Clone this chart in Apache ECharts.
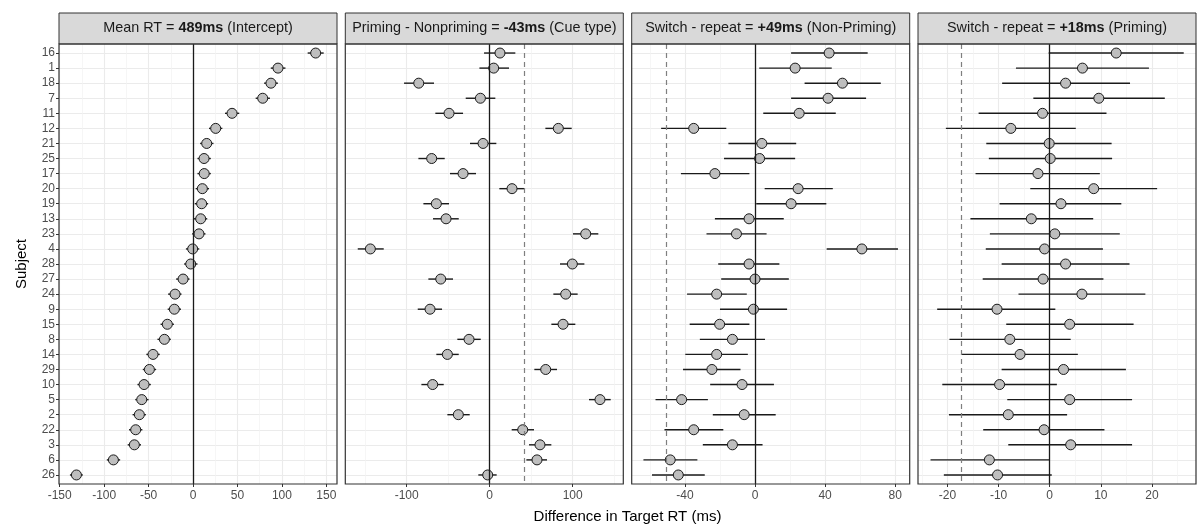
<!DOCTYPE html>
<html><head><meta charset="utf-8">
<script src="https://cdn.jsdelivr.net/npm/echarts@6/dist/echarts.min.js"></script>
<style>html,body{margin:0;padding:0;background:#fff}#c{width:1200px;height:526px}</style>
</head><body><div id="c"></div>
<script>
// ---------- data ----------
const subjects = ['16','1','18','7','11','12','21','25','17','20','19','13','23','4','28','27','24','9','15','8','14','29','10','5','2','22','3','6','26'];

const p1Est = [138,95.6,87.7,78.4,43.9,25.5,15.4,12.4,12.6,10.5,9.7,8.6,6.7,-0.4,-2.6,-11.2,-20.2,-21,-28.9,-32.2,-45,-49.1,-55.1,-57.7,-60.4,-64.5,-66,-89.6,-131.2];
const p1Lo  = [129,87.5,80,70.5,36,18,8,5,5,3,2,1,-1,-8,-10,-19,-28,-28.5,-36.5,-40,-52.5,-56.5,-62.5,-65,-68,-72,-73.5,-97,-138.5];
const p1Hi  = [147,104,95.5,86.5,52,33,23,20,20,18,17,16,14,7,5,-4,-13,-13.5,-21.5,-25,-37.5,-41.5,-47.5,-50,-53,-57,-58.5,-82,-124];

const p2Est = [12.4,4.8,-85.5,-11.2,-49,82.7,-8,-69.9,-32.1,26.9,-64.3,-52.6,115.7,-143.8,99.6,-59,91.6,-71.9,88.4,-24.9,-51,67.5,-68.7,132.9,-37.8,39.8,60.6,57,-2.4];
const p2Lo  = [-6.8,-12.4,-103.2,-28.9,-65.5,67.1,-23.7,-85.9,-47.8,11.6,-79.9,-68.3,100.4,-159,84.7,-73.9,76.7,-86.7,74.3,-39,-64.3,53.8,-82.3,119.7,-51,26.5,47.4,44.2,-13.7];
const p2Hi  = [30.9,23.3,-67.1,6.8,-32.1,98.8,8,-54.2,-16.5,41.8,-49,-37.3,130.9,-127.7,114.1,-44.2,106,-57.4,103.2,-10.8,-37.3,81.1,-55.4,145.8,-24.1,53.4,74.3,69.1,8.4];

const p3Est = [42.3,22.9,49.9,41.7,25.2,-35,3.9,2.6,-22.9,24.6,20.6,-3.4,-10.6,61,-3.4,0,-21.9,-0.9,-20.2,-12.9,-21.9,-24.6,-7.4,-41.9,-6.2,-35,-12.9,-48.4,-43.8];
const p3Lo  = [20.6,2.4,28.3,20.6,4.7,-53.6,-15.2,-17.7,-42.3,5.5,0.7,-22.9,-27.7,40.9,-21,-19.3,-38.8,-20,-37.3,-31.5,-39.8,-41.1,-25.6,-56.8,-24.1,-51.7,-29.8,-63.7,-58.8];
const p3Hi  = [64.3,43.8,71.8,63.4,46.1,-16.4,23.5,22.9,-3.2,44.4,40.7,16.4,6.6,81.6,13.9,19.3,-4.7,18.3,-3.2,5.7,-4.1,-8.3,10.8,-26.9,11.8,-18.1,4.3,-32.9,-28.7];

const p4Est = [13,6.4,3.1,9.6,-1.4,-7.6,-0.1,0.1,-2.3,8.6,2.2,-3.6,1,-1,3.1,-1.3,6.3,-10.3,3.9,-7.8,-5.8,2.7,-9.8,3.9,-8.1,-1.1,4.1,-11.8,-10.2];
const p4Lo  = [-0.2,-6.6,-9.3,-3.2,-13.9,-20.3,-12.4,-11.9,-14.5,-3.8,-9.8,-15.5,-11.7,-12.5,-9.4,-13.1,-6.1,-22,-8.5,-19.6,-17.2,-9.4,-21,-8.3,-19.7,-13,-8.1,-23.3,-20.7];
const p4Hi  = [26.2,19.4,15.7,22.5,11.1,5.1,12.1,12.2,9.8,21,14,8.5,13.7,10.4,15.6,10.5,18.7,1.1,16.4,4.1,5.5,14.9,1.4,16.1,3.4,10.7,16.1,0,0.4];

const p1Ticks = [-150,-100,-50,0,50,100,150];
const p2Ticks = [-100,0,100];
const p3Ticks = [-40,0,40,80];
const p4Ticks = [-20,-10,0,10,20];

const p1Ref = null, p2Ref = 41.8, p3Ref = -50.4, p4Ref = -17.3;

const titles = [
  ['Mean RT = ', '489ms', ' (Intercept)'],
  ['Priming - Nonpriming = ', '-43ms', ' (Cue type)'],
  ['Switch - repeat = ', '+49ms', ' (Non-Priming)'],
  ['Switch - repeat = ', '+18ms', ' (Priming)']
];

// ---------- layout ----------
const FONT = '"Liberation Sans", Arial, Helvetica, sans-serif';
const lefts = [59, 345.3, 631.7, 918];
const PW = 278, TOP = 44, PH = 440, STRIP_TOP = 13;

const panels = [
  {est:p1Est, lo:p1Lo, hi:p1Hi, ticks:p1Ticks, iv:50, min:-150.8, max:162, ref:p1Ref},
  {est:p2Est, lo:p2Lo, hi:p2Hi, ticks:p2Ticks, iv:100, min:-174, max:161, ref:p2Ref},
  {est:p3Est, lo:p3Lo, hi:p3Hi, ticks:p3Ticks, iv:40, min:-70.4, max:88.3, ref:p3Ref},
  {est:p4Est, lo:p4Lo, hi:p4Hi, ticks:p4Ticks, iv:10, min:-25.75, max:28.6, ref:p4Ref}
];
const idx = subjects.map((s,k)=>k);

const grid = [], xAxis = [], yAxis = [], series = [], graphic = [];
panels.forEach((p,i)=>{
  grid.push({left:lefts[i], top:TOP, width:PW, height:PH, containLabel:false});
  xAxis.push({
    type:'value', gridIndex:i, position:'bottom', min:p.min, max:p.max, minInterval:p.iv, maxInterval:p.iv,
    axisLine:{show:false, onZero:false},
    axisTick:{show:true, length:3, customValues:p.ticks, lineStyle:{color:'#333', width:1}},
    axisLabel:{customValues:p.ticks, color:'#4D4D4D', fontSize:12, margin:6, fontFamily:FONT,
      formatter:v=> (p.ticks.indexOf(v)>=0 ? String(v) : '')},
    splitLine:{show:true, lineStyle:{color:'#EBEBEB', width:1.1}},
    minorTick:{show:false, splitNumber:2},
    minorSplitLine:{show:true, lineStyle:{color:'#F2F2F2', width:0.7}}
  });
  yAxis.push({
    type:'value', gridIndex:i, position:'left', inverse:true, min:-0.6, max:28.6, minInterval:1, maxInterval:1,
    axisLine:{show:false, onZero:false},
    axisTick:{show:i===0, length:3, customValues:idx, lineStyle:{color:'#333', width:1}},
    axisLabel:{show:i===0, customValues:idx, color:'#4D4D4D', fontSize:12, margin:4, fontFamily:FONT,
      formatter:v=> (subjects[v] !== undefined && Number.isInteger(v) ? subjects[v] : '')},
    splitLine:{show:true, lineStyle:{color:'#EBEBEB', width:1.1}}
  });
  const mlData = [{xAxis:0, lineStyle:{color:'#1A1A1A', width:1.3, type:'solid'}}];
  if (p.ref !== null) mlData.push({xAxis:p.ref, lineStyle:{color:'#7F7F7F', width:1.2, type:[5,4]}});
  series.push({
    type:'custom', xAxisIndex:i, yAxisIndex:i, z:2,
    data: idx.map(k=>[p.lo[k], p.hi[k], k]),
    encode:{x:[0,1], y:2},
    renderItem:(params, api)=>{
      const a = api.coord([api.value(0), api.value(2)]);
      const b = api.coord([api.value(1), api.value(2)]);
      return {type:'line', shape:{x1:a[0], y1:a[1], x2:b[0], y2:b[1]},
        style:{stroke:'#1A1A1A', lineWidth:1.4}};
    },
    markLine:{silent:true, symbol:'none', label:{show:false}, data:mlData, animation:false}
  });
  series.push({
    type:'scatter', xAxisIndex:i, yAxisIndex:i, z:3,
    data: idx.map(k=>[p.est[k], k]),
    symbol:'circle', symbolSize:10,
    itemStyle:{color:'#BEBEBE', borderColor:'#1A1A1A', borderWidth:1, opacity:1}
  });
  // strip
  graphic.push({type:'rect', z:100, shape:{x:lefts[i], y:STRIP_TOP, width:PW, height:TOP-STRIP_TOP},
    style:{fill:'#D9D9D9', stroke:'#333', lineWidth:1}});
  const t = titles[i];
  graphic.push({type:'text', z:101, x:lefts[i]+PW/2, y:(STRIP_TOP+TOP)/2,
    style:{text:'{n|'+t[0]+'}{b|'+t[1]+'}{n|'+t[2]+'}', align:'center', verticalAlign:'middle',
      rich:{n:{fontSize:14.4, fontFamily:FONT, fill:'#1A1A1A'}, b:{fontSize:14.4, fontFamily:FONT, fontWeight:'bold', fill:'#1A1A1A'}}}});
  // panel border
  graphic.push({type:'rect', z:100, shape:{x:lefts[i], y:TOP, width:PW, height:PH},
    style:{fill:'none', stroke:'#333', lineWidth:1.2}});
});
graphic.push({type:'text', z:101, x:(lefts[0]+lefts[3]+PW)/2, y:517,
  style:{text:'Difference in Target RT (ms)', align:'center', verticalAlign:'middle', fontSize:15, fontFamily:FONT, fill:'#000'}});
graphic.push({type:'text', z:101, x:21.5, y:TOP+PH/2, rotation:Math.PI/2,
  style:{text:'Subject', align:'center', verticalAlign:'middle', fontSize:15, fontFamily:FONT, fill:'#000'}});

const chart = echarts.init(document.getElementById('c'), null, {renderer:'canvas'});
chart.setOption({animation:false, backgroundColor:'#fff', grid, xAxis, yAxis, series, graphic});
</script>
</body></html>
